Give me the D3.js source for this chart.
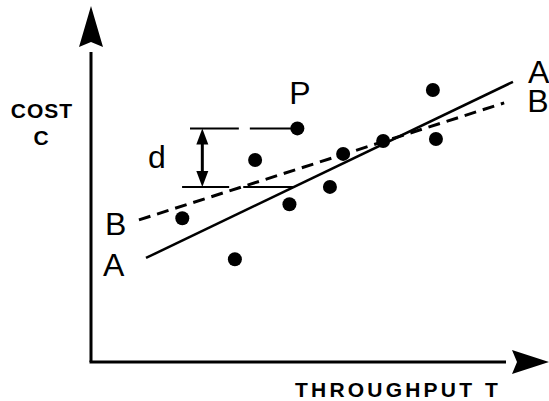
<!DOCTYPE html>
<meta charset="utf-8">
<script src="https://d3js.org/d3.v7.min.js"></script>
<style>
  body { margin: 0; background: #fff; }
  text { font-family: "Liberation Sans", Arial, sans-serif; fill: #000; }
</style>
<div id="dataviz"></div>
<script>
// observed points (throughput T, cost C), arbitrary units 0..100
var throughput = [20.75, 32.7, 37.3, 45.1, 46.9, 54.3, 57.3, 66.4, 77.7, 78.4];
var cost       = [42.3, 30.2, 59.4, 46.4, 68.7, 51.5, 61.2, 65.0, 80.0, 65.6];

// fitted line A (solid) and line B (dashed): start and end
var lineAT = [12.5, 95.9], lineAC = [30.6, 82.4];
var lineBT = [10.9, 93.9], lineBC = [41.8, 76.2];

// point P (index 4) and the deviation d down to line A
var pIndex = 4;
var dBottom = 51.5;

var width = 549, height = 401;

var svg = d3.select("#dataviz")
  .append("svg")
    .attr("width", width)
    .attr("height", height);

var x = d3.scaleLinear().domain([0, 100]).range([91, 531]);
var y = d3.scaleLinear().domain([0, 100]).range([362, 22]);

// axes with arrow heads
svg.append("line")
  .attr("x1", x(0)).attr("y1", y(0))
  .attr("x2", x(0)).attr("y2", y(100) + 30)
  .attr("stroke", "black").attr("stroke-width", 3);
svg.append("line")
  .attr("x1", x(0) - 1.5).attr("y1", y(0))
  .attr("x2", x(100) - 25).attr("y2", y(0))
  .attr("stroke", "black").attr("stroke-width", 3);

var tipY = y(100) - 16;
svg.append("path")
  .attr("d", "M" + x(0) + "," + tipY +
    " L" + (x(0) + 12) + "," + (tipY + 41) +
    " L" + x(0) + "," + (tipY + 36) +
    " L" + (x(0) - 12) + "," + (tipY + 41) + " Z")
  .attr("fill", "black");

var tipX = x(100) + 18;
svg.append("path")
  .attr("d", "M" + tipX + "," + y(0) +
    " L" + (tipX - 37) + "," + (y(0) - 12) +
    " L" + (tipX - 32) + "," + y(0) +
    " L" + (tipX - 37) + "," + (y(0) + 12) + " Z")
  .attr("fill", "black");

// axis titles
svg.append("text")
  .attr("x", 42).attr("y", 118)
  .attr("text-anchor", "middle")
  .style("font-size", "21px").style("font-weight", "bold")
  .style("letter-spacing", "1px")
  .text("COST");
svg.append("text")
  .attr("x", 41).attr("y", 145)
  .attr("text-anchor", "middle")
  .style("font-size", "21px").style("font-weight", "bold")
  .text("C");
svg.append("text")
  .attr("x", 295).attr("y", 397)
  .style("font-size", "21px").style("font-weight", "bold")
  .style("letter-spacing", "3.2px")
  .text("THROUGHPUT");
svg.append("text")
  .attr("x", 485).attr("y", 397)
  .style("font-size", "21px").style("font-weight", "bold")
  .text("T");

// d marker
var pT = throughput[pIndex], pC = cost[pIndex];
var dx = x(25.3);
var segs = [
  [22.5, 33.6, pC], [36.1, pT, pC],
  [20.7, 31.4, dBottom], [34.6, 45.9, dBottom]
];
svg.selectAll(".dseg")
  .data(segs)
  .enter().append("line")
    .attr("x1", function(d) { return x(d[0]); })
    .attr("x2", function(d) { return x(d[1]); })
    .attr("y1", function(d) { return y(d[2]); })
    .attr("y2", function(d) { return y(d[2]); })
    .attr("stroke", "black").attr("stroke-width", 2);

svg.append("line")
  .attr("x1", dx).attr("x2", dx)
  .attr("y1", y(pC) + 10).attr("y2", y(dBottom) - 10)
  .attr("stroke", "black").attr("stroke-width", 3);
svg.append("path")
  .attr("d", "M" + dx + "," + y(pC) + " L" + (dx + 6) + "," + (y(pC) + 16) +
    " L" + (dx - 6) + "," + (y(pC) + 16) + " Z")
  .attr("fill", "black");
svg.append("path")
  .attr("d", "M" + dx + "," + y(dBottom) + " L" + (dx + 6) + "," + (y(dBottom) - 16) +
    " L" + (dx - 6) + "," + (y(dBottom) - 16) + " Z")
  .attr("fill", "black");

// lines A and B
svg.append("line")
  .attr("x1", x(lineAT[0])).attr("y1", y(lineAC[0]))
  .attr("x2", x(lineAT[1])).attr("y2", y(lineAC[1]))
  .attr("stroke", "black").attr("stroke-width", 2.5);
svg.append("line")
  .attr("x1", x(lineBT[0])).attr("y1", y(lineBC[0]))
  .attr("x2", x(lineBT[1])).attr("y2", y(lineBC[1]))
  .attr("stroke", "black").attr("stroke-width", 3)
  .attr("stroke-dasharray", "12,7");

// points
svg.selectAll(".pt")
  .data(throughput)
  .enter().append("circle")
    .attr("cx", function(d) { return x(d); })
    .attr("cy", function(d, i) { return y(cost[i]); })
    .attr("r", 7)
    .attr("fill", "black");

// labels
var big = [
  ["P", x(pT) - 8, 104],
  ["B", x(lineBT[0]) - 34, 235],
  ["A", x(lineAT[0]) - 43, 276],
  ["A", x(lineAT[1]) + 15, 83],
  ["B", x(lineBT[1]) + 23, 112],
  ["d", 148, 168]
];
svg.selectAll(".lbl")
  .data(big)
  .enter().append("text")
    .attr("x", function(d) { return d[1]; })
    .attr("y", function(d) { return d[2]; })
    .style("font-size", "32px")
    .text(function(d) { return d[0]; });
</script>
